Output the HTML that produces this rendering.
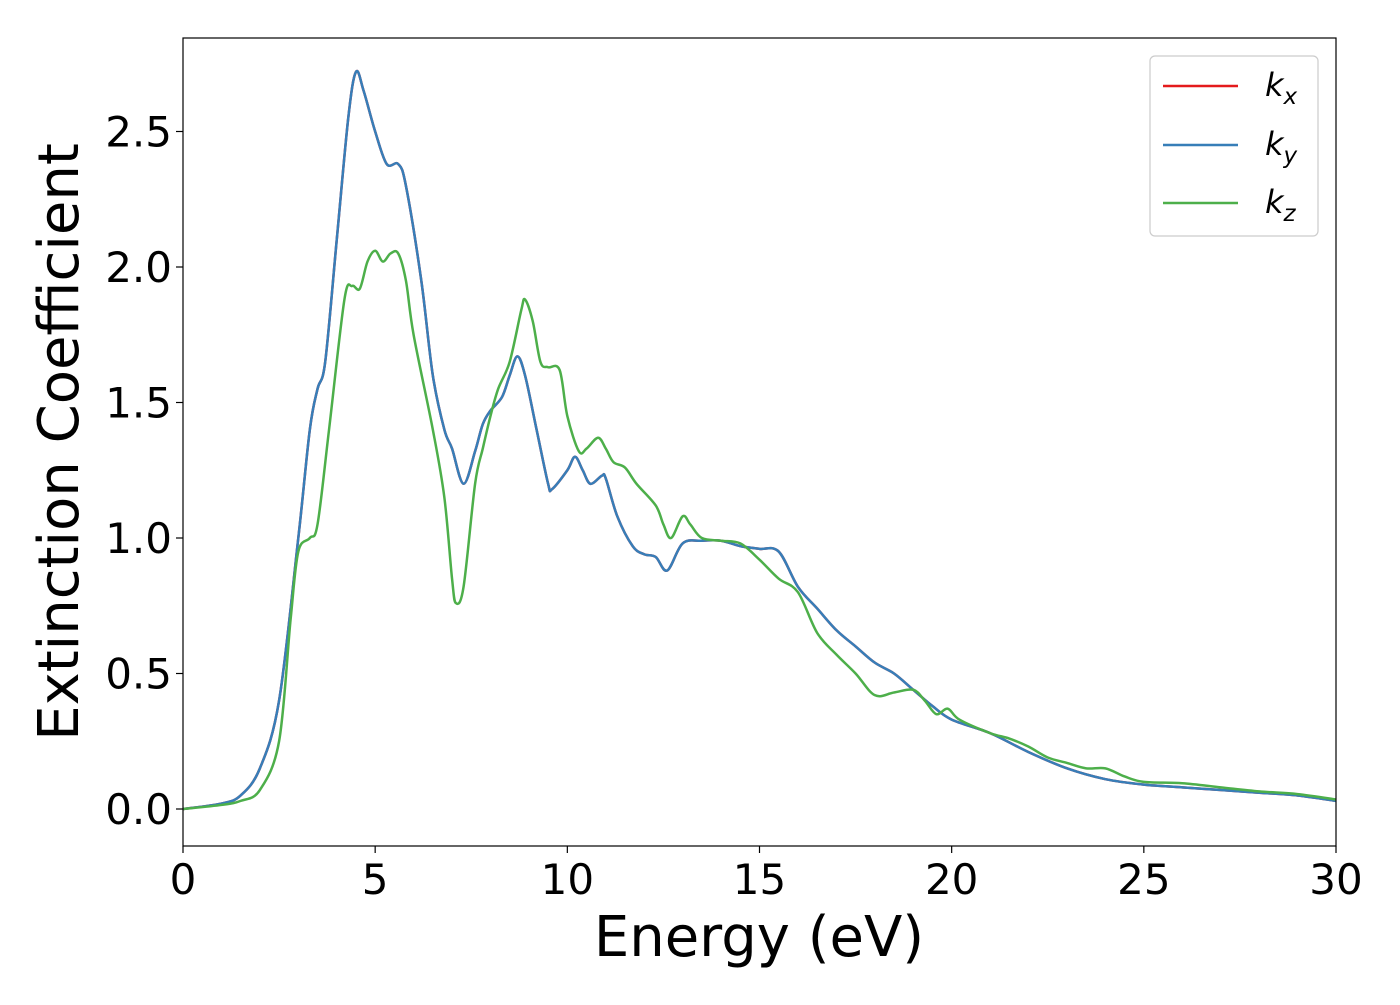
<!DOCTYPE html>
<html><head><meta charset="utf-8"><style>
body{margin:0;background:#fff;}
svg text{font-family:"DejaVu Sans","Liberation Sans",sans-serif;fill:#000;}
</style></head><body>
<svg id="chart" width="1400" height="1000" xmlns="http://www.w3.org/2000/svg">
<rect width="1400" height="1000" fill="#fff"/>
<g id="plot"></g>
</svg>
<script>
const energyKxy=[0,1,1.5,2,2.5,3,3.3,3.5,3.7,4,4.3,4.5,4.7,5,5.3,5.6,5.8,6.2,6.5,6.8,7,7.3,7.6,7.8,8,8.3,8.5,8.7,8.9,9.2,9.5,9.6,10,10.2,10.4,10.6,10.9,11,11.3,11.7,12,12.3,12.6,13,13.5,14,14.5,15,15.5,16,16.5,17,17.5,18,18.5,19,19.5,20,21,22,23,24,25,26,27,28,29,30];
const kxValues=[0,0.02,0.05,0.15,0.4,1.0,1.4,1.55,1.65,2.1,2.55,2.72,2.65,2.5,2.38,2.38,2.3,1.95,1.6,1.4,1.33,1.2,1.32,1.42,1.47,1.52,1.6,1.67,1.6,1.4,1.2,1.18,1.25,1.3,1.25,1.2,1.23,1.22,1.08,0.97,0.94,0.93,0.88,0.98,0.99,0.99,0.97,0.96,0.95,0.82,0.74,0.66,0.6,0.54,0.5,0.44,0.38,0.33,0.28,0.21,0.15,0.11,0.09,0.08,0.07,0.06,0.05,0.03];
const kyValues=kxValues.slice();
const energyKz=[0,1,1.5,2,2.5,2.8,3,3.3,3.5,3.8,4.2,4.4,4.6,4.8,5,5.2,5.4,5.6,5.8,6,6.5,6.8,7,7.1,7.3,7.6,7.8,8,8.2,8.5,8.8,8.9,9.1,9.3,9.5,9.8,10,10.3,10.5,10.8,11,11.2,11.5,11.8,12.3,12.5,12.7,13,13.2,13.5,14,14.5,15,15.5,16,16.5,17,17.5,18,18.5,19,19.3,19.6,19.9,20.2,21,21.5,22,22.5,23,23.5,24,24.5,25,26,27,28,29,30];
const kzValues=[0,0.015,0.03,0.07,0.25,0.7,0.95,1.0,1.05,1.4,1.88,1.93,1.92,2.02,2.06,2.02,2.05,2.05,1.95,1.75,1.4,1.15,0.85,0.76,0.82,1.2,1.33,1.45,1.55,1.65,1.84,1.88,1.8,1.65,1.63,1.62,1.45,1.32,1.33,1.37,1.33,1.28,1.26,1.2,1.12,1.05,1.0,1.08,1.05,1.0,0.99,0.98,0.92,0.85,0.8,0.65,0.57,0.5,0.42,0.43,0.44,0.4,0.35,0.37,0.33,0.28,0.26,0.23,0.19,0.17,0.15,0.15,0.12,0.1,0.095,0.08,0.065,0.055,0.035];
const xTicks=[0,5,10,15,20,25,30];
const yTicks=[0.0,0.5,1.0,1.5,2.0,2.5];
const yTickLabels=["0.0","0.5","1.0","1.5","2.0","2.5"];

const L=183,R=1336,T=38,B=846;
const X=v=>L+(v-0)/30*(R-L);
const Y=v=>809-v*271;
const NS="http://www.w3.org/2000/svg";
const g=document.getElementById('plot');
function mk(tag,attrs,parent){const e=document.createElementNS(NS,tag);for(const k in attrs)e.setAttribute(k,attrs[k]);(parent||g).appendChild(e);return e;}
function path(xs,ys){
  const p=xs.map((x,i)=>[X(x),Y(ys[i])]);
  let d='M'+p[0][0]+','+p[0][1];
  for(let i=0;i<p.length-1;i++){
    const p0=p[Math.max(0,i-1)],p1=p[i],p2=p[i+1],p3=p[Math.min(p.length-1,i+2)];
    const c1=[p1[0]+(p2[0]-p0[0])/6,p1[1]+(p2[1]-p0[1])/6];
    const c2=[p2[0]-(p3[0]-p1[0])/6,p2[1]-(p3[1]-p1[1])/6];
    d+=` C${c1[0]},${c1[1]} ${c2[0]},${c2[1]} ${p2[0]},${p2[1]}`;
  }
  return d;
}
let e;
e=mk('path',{d:path(energyKxy,kxValues),fill:'none',stroke:'#e41a1c','stroke-width':2.5});


e=mk('path',{d:path(energyKxy,kyValues),fill:'none',stroke:'#377eb8','stroke-width':2.5});


e=mk('path',{d:path(energyKz,kzValues),fill:'none',stroke:'#4daf4a','stroke-width':2.5});


e=mk('rect',{x:L,y:T,width:R-L,height:B-T,fill:'none',stroke:'#000','stroke-width':1.2});


xTicks.forEach(t=>{
  e=mk('line',{x1:X(t),x2:X(t),y1:B,y2:B+7,stroke:'#000','stroke-width':1.2});
  
  
  e=mk('text',{x:X(t),y:894,'font-size':42,'text-anchor':'middle'});e.textContent=t;
  
  
});
yTicks.forEach((t,i)=>{
  e=mk('line',{x1:L-7,x2:L,y1:Y(t),y2:Y(t),stroke:'#000','stroke-width':1.2});
  
  
  e=mk('text',{x:172,y:Y(t)+15,'font-size':42,'text-anchor':'end'});e.textContent=yTickLabels[i];
  
  
});
e=mk('text',{x:759,y:956,'font-size':56,'text-anchor':'middle'});e.textContent='Energy (eV)';


e=mk('text',{x:0,y:0,'font-size':56,'text-anchor':'middle',transform:'translate(78,442) rotate(-90)'});e.textContent='Extinction Coefficient';


e=mk('rect',{x:1150,y:56,width:168,height:180,rx:5,fill:'#fff',stroke:'#ccc','stroke-width':1.2});


const legCols=['#e41a1c','#377eb8','#4daf4a'],legSub=['x','y','z'],legY=[86,145,203];
legCols.forEach((c,i)=>{
  e=mk('line',{x1:1163,x2:1238,y1:legY[i],y2:legY[i],stroke:c,'stroke-width':2.5});
  
  
  e=mk('text',{x:1265,y:legY[i]+10,'font-size':32,'font-style':'italic'});
  
  
  e.innerHTML='k<tspan font-size="23" dy="8">'+legSub[i]+'</tspan>';
});
</script>
</body></html>
